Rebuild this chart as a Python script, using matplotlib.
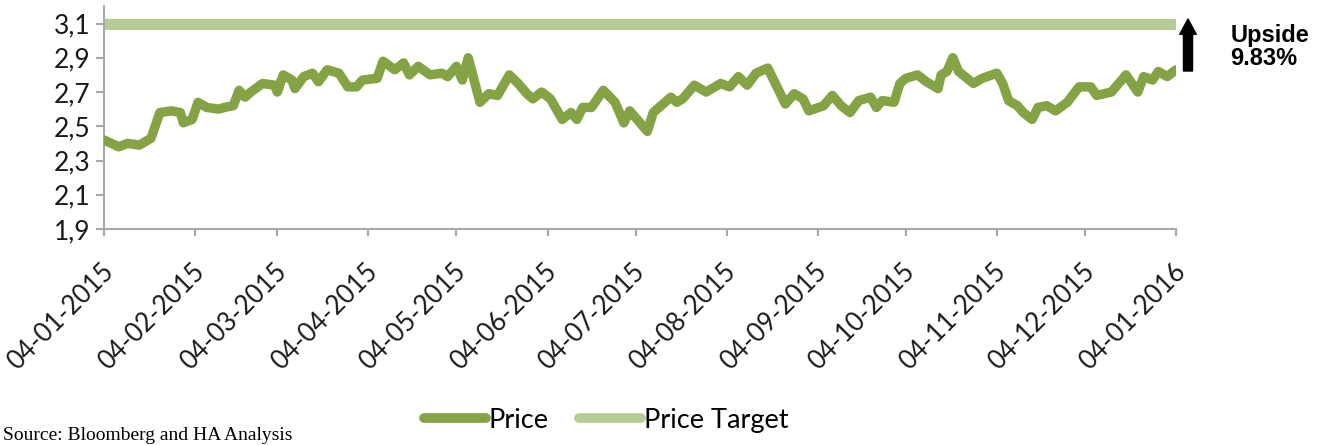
import numpy as np
import pandas as pd
import matplotlib
matplotlib.use("Agg")
import matplotlib.pyplot as plt
import matplotlib.dates as mdates
from matplotlib.transforms import ScaledTranslation

# Price series (days after 04-01-2015, price)
start_date = "2015-01-04"
end_date = "2016-01-04"
price_days = [0, 5, 8, 12, 16, 19, 23, 26, 27, 30, 32, 35, 39, 41, 44, 46, 48, 50,
              54, 58, 59, 61, 64, 65, 68, 71, 73, 76, 80, 83, 86, 88, 93, 95, 99,
              102, 104, 107, 111, 115, 117, 120, 122, 124, 128, 131, 134, 138, 141,
              144, 146, 149, 152, 156, 159, 161, 163, 166, 170, 174, 177, 179, 185,
              187, 193, 195, 197, 201, 205, 210, 213, 216, 219, 222, 226, 232, 235,
              238, 240, 245, 248, 251, 254, 257, 261, 263, 265, 269, 271, 273, 277,
              280, 284, 285, 287, 289, 291, 296, 299, 304, 306, 308, 311, 313, 316,
              318, 321, 324, 328, 332, 336, 338, 343, 348, 352, 354, 357, 359, 362,
              365]
price = [2.42, 2.38, 2.40, 2.39, 2.43, 2.58, 2.59, 2.58, 2.52, 2.54, 2.64, 2.61,
         2.60, 2.61, 2.62, 2.71, 2.67, 2.70, 2.75, 2.74, 2.70, 2.80, 2.77, 2.72,
         2.79, 2.81, 2.76, 2.83, 2.81, 2.73, 2.73, 2.77, 2.78, 2.88, 2.83, 2.87,
         2.80, 2.85, 2.80, 2.81, 2.79, 2.85, 2.77, 2.90, 2.64, 2.69, 2.68, 2.80,
         2.75, 2.69, 2.66, 2.70, 2.66, 2.54, 2.58, 2.54, 2.61, 2.61, 2.71, 2.64,
         2.52, 2.59, 2.47, 2.58, 2.67, 2.64, 2.66, 2.74, 2.70, 2.75, 2.73, 2.79,
         2.74, 2.81, 2.84, 2.63, 2.69, 2.66, 2.59, 2.62, 2.68, 2.62, 2.58, 2.65,
         2.67, 2.61, 2.65, 2.64, 2.75, 2.78, 2.80, 2.76, 2.72, 2.80, 2.82, 2.90,
         2.82, 2.75, 2.78, 2.81, 2.75, 2.65, 2.62, 2.58, 2.54, 2.61, 2.62, 2.59,
         2.64, 2.73, 2.73, 2.68, 2.70, 2.80, 2.70, 2.79, 2.77, 2.82, 2.79, 2.83]
price_target = 3.1
upside_text = "Upside\n9.83%"
yticks = [1.9, 2.1, 2.3, 2.5, 2.7, 2.9, 3.1]

price_color = "#84A344"
target_color = "#B5CD95"
axis_gray = "#A8A8A8"

dates = pd.Timestamp(start_date) + pd.to_timedelta(price_days, unit="D")
x_range = pd.to_datetime([start_date, end_date])

fig = plt.figure(figsize=(13.27, 4.45), dpi=100)
ax = fig.add_axes([0.0784, 0.4854, 0.8078, 0.5002])

ax.plot(dates, price, color=price_color, lw=6.8, solid_capstyle="round",
        solid_joinstyle="round", label="Price", zorder=3)
ax.plot(x_range, [price_target, price_target], color=target_color, lw=8,
        solid_capstyle="butt", label="Price Target", zorder=2)

ax.set_xlim(x_range[0], x_range[1])
ax.set_ylim(1.9, 3.2)
ax.set_yticks(yticks)
ax.set_yticklabels([f"{v:.1f}".replace(".", ",") for v in yticks])

ticks = pd.date_range("2015-01-01", "2016-01-01", freq="MS") + pd.Timedelta(days=3)
ax.set_xticks(ticks)
ax.xaxis.set_major_formatter(mdates.DateFormatter("%d-%m-%Y"))

for s in ["top", "right"]:
    ax.spines[s].set_visible(False)
for s in ["left", "bottom"]:
    ax.spines[s].set_color(axis_gray)
    ax.spines[s].set_linewidth(1.5)

ax.tick_params(axis="y", length=6, width=1.5, color=axis_gray, labelsize=19,
               labelcolor="#1a1a1a", pad=4)
ax.tick_params(axis="x", length=5, width=1.5, color=axis_gray, labelsize=18.5,
               labelcolor="#1a1a1a", pad=23)
for lbl in ax.get_yticklabels() + ax.get_xticklabels():
    lbl.set_fontfamily("Lato")
shift = ScaledTranslation(4 / 72, 0, fig.dpi_scale_trans)
for lbl in ax.get_xticklabels():
    lbl.set_rotation(45)
    lbl.set_ha("right")
    lbl.set_rotation_mode("anchor")
    lbl.set_va("center")
    lbl.set_transform(lbl.get_transform() + shift)

leg = fig.legend(loc="center", bbox_to_anchor=(0.4567, 0.056), ncol=2,
                 frameon=False, handlelength=2.3, handletextpad=0.1,
                 columnspacing=1.1, prop={"family": "Lato", "size": 19.5})
for line in leg.get_lines():
    line.set_solid_capstyle("round")
    line.set_linewidth(7)

# upside arrow and label
ax.annotate("", xy=(1188, 445 - 19), xytext=(1188, 445 - 71),
            xycoords="figure pixels", textcoords="figure pixels",
            arrowprops=dict(facecolor="black", edgecolor="black", width=6.5,
                            headwidth=12, headlength=11, shrink=0))
fig.text(0.927, 0.945, upside_text, ha="left", va="top", fontsize=17,
         fontweight="bold", family="Liberation Sans", linespacing=1.0)

fig.text(0.002, 0.002, "Source: Bloomberg and HA Analysis", ha="left", va="bottom",
         fontsize=14, family="Liberation Serif")

fig.savefig("out.png", dpi=100)
